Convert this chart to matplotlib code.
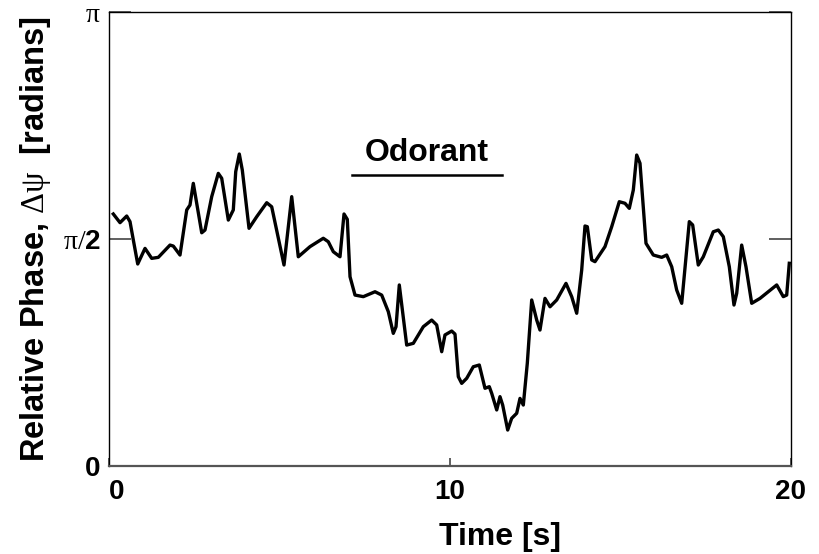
import numpy as np
import matplotlib
matplotlib.use('Agg')
import matplotlib.pyplot as plt

plt.rcParams['font.family'] = 'Liberation Sans'
plt.rcParams['mathtext.fontset'] = 'custom'
plt.rcParams['mathtext.rm'] = 'Liberation Serif'
plt.rcParams['mathtext.it'] = 'Liberation Serif:italic'
plt.rcParams['mathtext.bf'] = 'Liberation Sans:bold'

# Relative phase trace (time in s, phase in radians)
time_s = [0.126, 0.323, 0.519, 0.616, 0.713, 0.842, 1.056, 1.252, 1.446, 1.789,
          1.886, 2.082, 2.279, 2.375, 2.472, 2.719, 2.815, 3.012, 3.205, 3.305,
          3.499, 3.645, 3.716, 3.821, 3.909, 4.106, 4.331, 4.625, 4.771, 5.132,
          5.358, 5.551, 5.894, 6.284, 6.431, 6.578, 6.774, 6.892, 6.988, 7.068,
          7.214, 7.458, 7.801, 7.997, 8.191, 8.337, 8.417, 8.513, 8.730, 8.924,
          9.217, 9.463, 9.610, 9.757, 9.853, 10.050, 10.147, 10.244, 10.343, 10.490,
          10.683, 10.859, 11.026, 11.152, 11.223, 11.370, 11.466, 11.545, 11.692, 11.809,
          11.956, 12.053, 12.150, 12.267, 12.396, 12.543, 12.639, 12.786, 12.933, 13.129,
          13.402, 13.569, 13.716, 13.862, 13.959, 14.027, 14.156, 14.252, 14.545, 14.742,
          14.965, 15.132, 15.258, 15.376, 15.475, 15.572, 15.748, 15.962, 16.208, 16.355,
          16.502, 16.648, 16.795, 17.018, 17.117, 17.281, 17.428, 17.721, 17.868, 18.015,
          18.191, 18.328, 18.408, 18.554, 18.680, 18.848, 19.091, 19.581, 19.774, 19.874,
          19.950]
phase = [1.744, 1.684, 1.730, 1.691, 1.564, 1.398, 1.506, 1.437, 1.444, 1.529,
         1.522, 1.460, 1.772, 1.806, 1.956, 1.614, 1.633, 1.864, 2.025, 1.991,
         1.702, 1.772, 2.037, 2.159, 2.048, 1.645, 1.725, 1.822, 1.794, 1.391,
         1.864, 1.448, 1.518, 1.576, 1.552, 1.483, 1.448, 1.744, 1.707, 1.310,
         1.183, 1.172, 1.206, 1.183, 1.068, 0.918, 0.964, 1.253, 0.837, 0.849,
         0.964, 1.010, 0.976, 0.791, 0.907, 0.934, 0.913, 0.618, 0.572, 0.607,
         0.687, 0.699, 0.538, 0.549, 0.503, 0.388, 0.480, 0.422, 0.249, 0.330,
         0.365, 0.468, 0.422, 0.711, 1.149, 1.010, 0.941, 1.160, 1.102, 1.149,
         1.264, 1.172, 1.057, 1.356, 1.661, 1.656, 1.426, 1.414, 1.518, 1.656,
         1.829, 1.818, 1.783, 1.910, 2.152, 2.095, 1.541, 1.460, 1.444, 1.460,
         1.379, 1.218, 1.126, 1.691, 1.668, 1.391, 1.448, 1.621, 1.633, 1.587,
         1.379, 1.114, 1.195, 1.529, 1.379, 1.126, 1.160, 1.253, 1.172, 1.183,
         1.403]

odor_on, odor_off = 7.13, 11.52
odor_level = 2.014

xticks = [0, 10, 20]
yticks = [0, np.pi / 2, np.pi]
ytick_labels = ['0', r'$\mathrm{\pi/}\mathbf{2}$', r'$\mathrm{\pi}$']

fig = plt.figure(figsize=(8.19, 5.54), dpi=100)
ax = fig.add_axes([0.1331, 0.1588, 0.8327, 0.8195])

ax.plot(time_s, phase, c='k', lw=2.4, solid_joinstyle='round')

# odorant marker
ax.plot([odor_on, odor_off], [odor_level, odor_level], c='k', lw=1.8)
ax.text((odor_on + odor_off) / 2, odor_level + 0.05, 'Odorant', ha='center', va='bottom',
        fontsize=23, fontweight='bold')

ax.set_xlim(0, 20)
ax.set_ylim(0, np.pi)

ax.set_xticks(xticks)
ax.set_xticklabels([str(t) for t in xticks], fontsize=20, fontweight='bold')
ax.xaxis.get_majorticklabels()[0].set_horizontalalignment('left')
ax.set_yticks(yticks)
ax.set_yticklabels(ytick_labels, fontsize=20, fontweight='bold')

ax.tick_params(axis='x', direction='in', length=6, width=1.2, color='#444444', pad=9)
ax.tick_params(axis='y', direction='in', length=16, width=1.2, color='#444444', pad=6,
               right=True)

for side in ['top', 'left', 'right']:
    ax.spines[side].set_linewidth(1.0)
    ax.spines[side].set_color('k')
ax.spines['bottom'].set_linewidth(1.6)
ax.spines['bottom'].set_color('#555555')

ax.set_xlabel('Time [s]', fontsize=23, fontweight='bold')
ax.xaxis.set_label_coords(0.573, -0.124)
ax.set_ylabel(r'Relative Phase, $\mathrm{\Delta\psi}$  [radians]', fontsize=23.5,
              fontweight='bold', labelpad=7)

plt.savefig('out.png', dpi=100)
plt.close()
